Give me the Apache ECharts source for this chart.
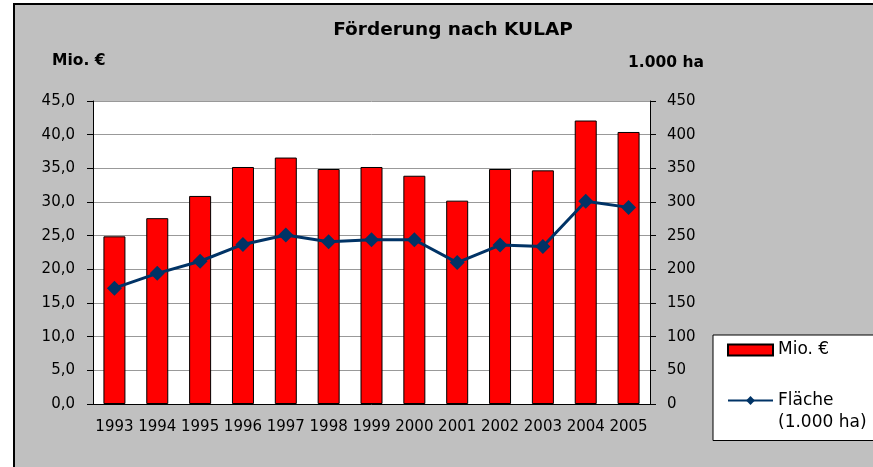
<!DOCTYPE html>
<html>
<head>
<meta charset="utf-8">
<script src="https://cdn.jsdelivr.net/npm/echarts@6/dist/echarts.min.js"></script>
<style>
  html, body { margin: 0; padding: 0; background: #fff; }
  #chart { width: 873px; height: 467px; }
</style>
</head>
<body>
<div id="chart"></div>
<script>
const years = ['1993', '1994', '1995', '1996', '1997', '1998', '1999', '2000', '2001', '2002', '2003', '2004', '2005'];
const foerderung = [24.9, 27.6, 30.9, 35.2, 36.6, 34.9, 35.2, 33.9, 30.2, 34.9, 34.7, 42.1, 40.4];
const flaeche = [172, 194, 212, 237, 251, 241, 244, 244, 210, 236, 234, 301, 292];

const fontFamily = 'DejaVu Sans';
const chart = echarts.init(document.getElementById('chart'));

const options = {
  backgroundColor: '#fff',
  animation: false,
  textStyle: { fontFamily: fontFamily, color: '#000' },
  graphic: [
    {
      type: 'rect',
      z: -10,
      shape: { x: 14, y: 4, width: 900, height: 500 },
      style: { fill: '#c0c0c0', stroke: '#000', lineWidth: 2 },
    },
    {
      type: 'text',
      x: 453, y: 30,
      style: { text: 'Förderung nach KULAP', font: 'bold 18.5px ' + fontFamily, fill: '#000', align: 'center', verticalAlign: 'middle' },
    },
    {
      type: 'text',
      x: 52, y: 61,
      style: { text: 'Mio. €', font: 'bold 15.5px ' + fontFamily, fill: '#000', verticalAlign: 'middle' },
    },
    {
      type: 'text',
      x: 628, y: 63,
      style: { text: '1.000 ha', font: 'bold 15.5px ' + fontFamily, fill: '#000', verticalAlign: 'middle' },
    },
  ],
  legend: {
    orient: 'vertical',
    left: 713,
    top: 335,
    padding: [4, 200, 7, 14],
    itemGap: 6.5,
    itemWidth: 45,
    itemHeight: 11,
    backgroundColor: '#fff',
    borderColor: '#000',
    borderWidth: 1,
    borderRadius: 0,
    textStyle: { fontFamily: fontFamily, fontSize: 17, color: '#000', lineHeight: 22 },
    formatter: name => (name === 'Mio. €' ? name : '\nFläche\n(1.000 ha)'),
    data: [
      { name: 'Mio. €', icon: 'rect' },
      { name: 'Fläche (1.000 ha)' },
    ],
  },
  grid: {
    left: 93,
    right: 223,
    top: 101,
    bottom: 63,
    show: true,
    backgroundColor: '#fff',
    borderWidth: 0,
  },
  xAxis: {
    type: 'category',
    data: years,
    axisLine: { lineStyle: { color: '#000', width: 1 } },
    axisTick: { length: 5, lineStyle: { color: '#000' } },
    axisLabel: { fontSize: 15, color: '#000', margin: 16, interval: 0 },
  },
  yAxis: [
    {
      type: 'value',
      min: 0,
      max: 45,
      interval: 5,
      axisLine: { show: true, lineStyle: { color: '#000' } },
      axisTick: { show: true, length: 6, lineStyle: { color: '#000' } },
      axisLabel: {
        fontSize: 15, color: '#000', margin: 18,
        formatter: v => v.toFixed(1).replace('.', ','),
      },
      splitLine: { lineStyle: { color: '#999', width: 1 } },
    },
    {
      type: 'value',
      min: 0,
      max: 450,
      interval: 50,
      axisLine: { show: true, lineStyle: { color: '#000' } },
      axisTick: { show: true, length: 6, lineStyle: { color: '#000' } },
      axisLabel: { fontSize: 15, color: '#000', margin: 17 },
      splitLine: { show: false },
    },
  ],
  series: [
    {
      name: 'Mio. €',
      type: 'bar',
      yAxisIndex: 0,
      data: foerderung,
      barWidth: 22,
      itemStyle: { color: '#ff0000', borderColor: '#000', borderWidth: 1 },
    },
    {
      name: 'Fläche (1.000 ha)',
      type: 'line',
      yAxisIndex: 1,
      data: flaeche,
      symbol: 'diamond',
      symbolSize: 15,
      lineStyle: { color: '#003366', width: 3 },
      itemStyle: { color: '#003366' },
    },
  ],
};

chart.setOption(options);
</script>
</body>
</html>
